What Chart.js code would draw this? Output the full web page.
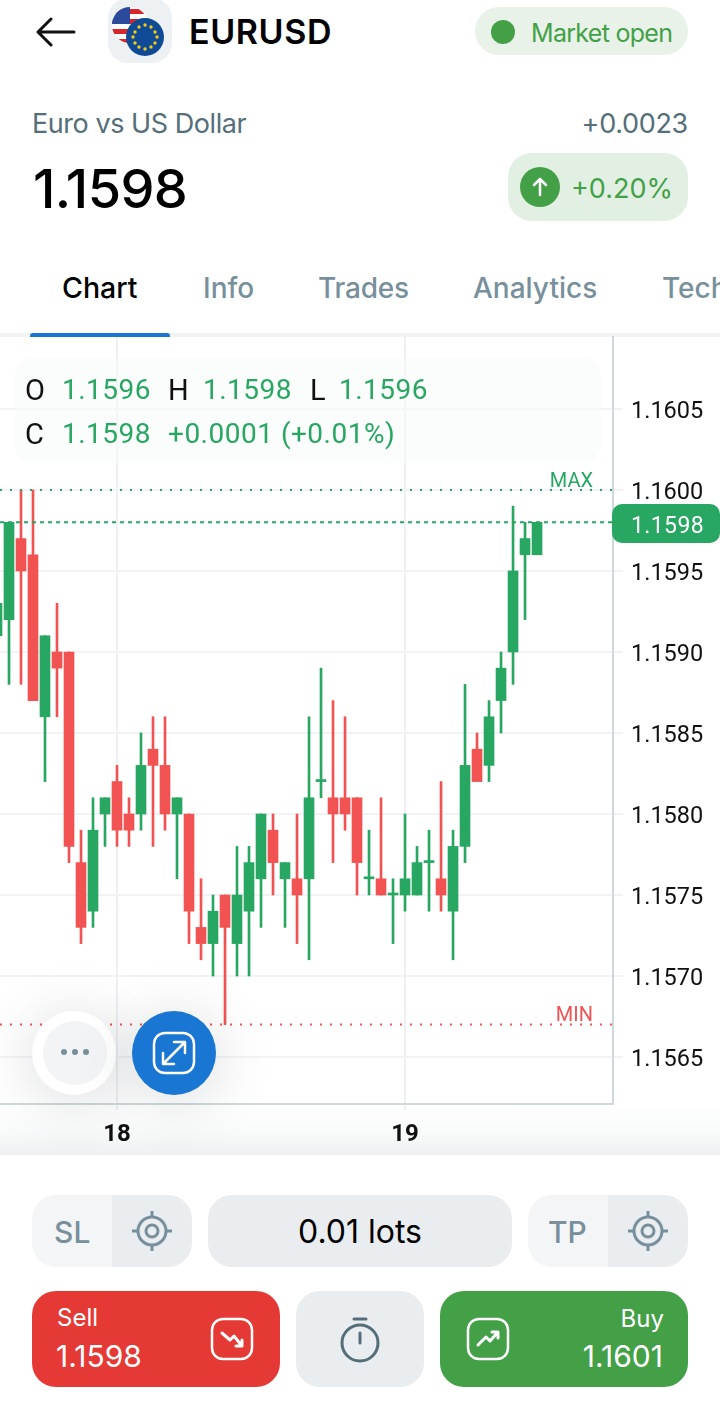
<!DOCTYPE html>
<html>
<head>
<meta charset="utf-8">
<title>EURUSD</title>
<script src="https://cdn.jsdelivr.net/npm/chart.js@4"></script>
<style>
  html, body { margin: 0; padding: 0; background: #fff; }
  #page { position: relative; width: 720px; height: 1425px; overflow: hidden; font-family: Inter, sans-serif; color: #000; }
  #page > div, #page > svg, #page > canvas { position: absolute; }
  .t { white-space: nowrap; transform: translateY(-50%); line-height: 1; }
  .r { text-align: right; }
  .slate { color: #546e7a; }
  .tab { color: #78909c; font-size: 28px; font-weight: 500; top: 288px; }
  .ohlc { font-family: Roboto, sans-serif; font-size: 28px; color: #27a762; letter-spacing: .5px; }
  .ohlc.k { color: #111; font-size: 29px; }
  .pill { background: #e9edf0; border-radius: 24px; }
  #shade { left: 0; top: 1105px; width: 720px; height: 50px; background: linear-gradient(#fff, #fafbfb 50%, #eff0f1); }
</style>
</head>
<body>
<div id="page">
  <!-- header -->
  <svg style="left:36px;top:14px" width="40" height="36" viewBox="0 0 40 36" fill="none" stroke="#111" stroke-width="3" stroke-linecap="round" stroke-linejoin="round"><path d="M2 18H38M15 5L2 18L15 31"/></svg>
  <div style="left:108px;top:-2px;width:64px;height:65px;background:#eef1f4;border-radius:20px"></div>
  <svg style="left:108px;top:0" width="64" height="64" viewBox="0 0 64 64">
    <clipPath id="us"><circle cx="22" cy="25" r="18"/></clipPath>
    <g clip-path="url(#us)">
      <rect x="4" y="7" width="36" height="36" fill="#fff"/>
      <rect x="4" y="9" width="36" height="5" fill="#d8262c"/>
      <rect x="4" y="19" width="36" height="5" fill="#d8262c"/>
      <rect x="4" y="29" width="36" height="5" fill="#d8262c"/>
      <rect x="4" y="39" width="36" height="5" fill="#d8262c"/>
      <rect x="4" y="7" width="18" height="17" fill="#2b4a9b"/>
    </g>
    <g transform="translate(-1,-3)">
      <circle cx="38" cy="40" r="19" fill="#0f4a96"/>
      <g fill="#f6c90e">
        <circle cx="38" cy="28" r="1.7"/><circle cx="44" cy="30" r="1.7"/><circle cx="48" cy="35" r="1.7"/><circle cx="50" cy="40" r="1.7"/>
        <circle cx="48" cy="46" r="1.7"/><circle cx="44" cy="50" r="1.7"/><circle cx="38" cy="52" r="1.7"/><circle cx="32" cy="50" r="1.7"/>
        <circle cx="28" cy="46" r="1.7"/><circle cx="26" cy="40" r="1.7"/><circle cx="28" cy="35" r="1.7"/><circle cx="32" cy="30" r="1.7"/>
      </g>
    </g>
  </svg>
  <div class="t" style="left:189px;top:32px;font-size:34px;font-weight:600;letter-spacing:.6px">EURUSD</div>
  <div style="left:475px;top:7px;width:213px;height:48px;background:#e8f2e9;border-radius:24px"></div>
  <div style="left:491px;top:20px;width:24px;height:24px;background:#43a047;border-radius:50%"></div>
  <div class="t" style="left:531px;top:33px;font-size:25px;color:#43a047;letter-spacing:-.7px">Market open</div>

  <div class="t slate" style="left:32px;top:123px;font-size:27px;letter-spacing:-.45px">Euro vs US Dollar</div>
  <div class="t slate r" style="right:32px;top:123px;font-size:27px;letter-spacing:-.3px">+0.0023</div>
  <div class="t" style="left:33px;top:189px;font-size:54px;font-weight:500;letter-spacing:-.6px">1.1598</div>
  <div style="left:508px;top:153px;width:180px;height:68px;background:#e2f0e3;border-radius:24px"></div>
  <svg style="left:520px;top:167px" width="40" height="40" viewBox="0 0 40 40"><circle cx="20" cy="20" r="20" fill="#43a047"/><path d="M20 28V13M14 18L20 12L26 18" fill="none" stroke="#fff" stroke-width="2.5" stroke-linecap="round" stroke-linejoin="round"/></svg>
  <div class="t" style="left:571px;top:188px;font-size:27px;color:#43a047">+0.20%</div>

  <!-- tabs -->
  <div class="t" style="left:62px;top:288px;font-size:28.5px;font-weight:500">Chart</div>
  <div class="t tab" style="left:203px">Info</div>
  <div class="t tab" style="left:318px;letter-spacing:-.2px">Trades</div>
  <div class="t tab" style="left:473px">Analytics</div>
  <div class="t tab" style="left:662px">Technical</div>
  <div style="left:0;top:333px;width:720px;height:4px;background:#f1f3f5"></div>
  <div style="left:30px;top:333px;width:140px;height:4px;background:#1976d2;border-radius:3px 3px 0 0"></div>

  <!-- chart -->
  <div id="shade"></div>
  <canvas id="candleChart" width="720" height="830" style="left:0;top:320px;width:720px;height:830px"></canvas>

  <div style="left:15px;top:358px;width:586px;height:105px;background:rgba(248,249,250,.55);border-radius:18px"></div>
  <div class="t ohlc k" style="left:25px;top:390px">O</div>
  <div class="t ohlc" style="left:62px;top:390px">1.1596</div>
  <div class="t ohlc k" style="left:168px;top:390px">H</div>
  <div class="t ohlc" style="left:203px;top:390px">1.1598</div>
  <div class="t ohlc k" style="left:310px;top:390px">L</div>
  <div class="t ohlc" style="left:339px;top:390px">1.1596</div>
  <div class="t ohlc k" style="left:25px;top:434px">C</div>
  <div class="t ohlc" style="left:62px;top:434px">1.1598</div>
  <div class="t ohlc" style="left:168px;top:434px">+0.0001 (+0.01%)</div>

  <div class="t r" style="right:127px;top:480px;font-family:Roboto,sans-serif;font-size:20px;color:#27a762">MAX</div>
  <div class="t r" style="right:127px;top:1014px;font-family:Roboto,sans-serif;font-size:20px;color:#f15353">MIN</div>
  <div style="left:612px;top:504px;width:108px;height:39px;background:#27a762;border-radius:10px"></div>
  <div class="t" style="left:631px;top:525px;font-family:Roboto,sans-serif;font-size:23px;color:#fff;letter-spacing:.4px">1.1598</div>

  <!-- floating buttons -->
  <div style="left:32px;top:1011px;width:84px;height:84px;border-radius:50%;background:#fff;box-shadow:0 6px 60px rgba(60,70,80,.2)"></div>
  <div style="left:43px;top:1021px;width:64px;height:64px;border-radius:50%;background:#f3f4f6"></div>
  <svg style="left:60px;top:1046px" width="30" height="12"><circle cx="4" cy="6" r="3" fill="#78909c"/><circle cx="15" cy="6" r="3" fill="#78909c"/><circle cx="26" cy="6" r="3" fill="#78909c"/></svg>
  <div style="left:132px;top:1011px;width:84px;height:84px;border-radius:50%;background:#1976d2;box-shadow:0 6px 60px rgba(60,70,80,.2)"></div>
  <svg style="left:152px;top:1031px" width="44" height="44" viewBox="0 0 44 44" fill="none" stroke="#fff" stroke-width="2.5" stroke-linecap="round" stroke-linejoin="round"><rect x="2" y="2" width="40" height="40" rx="11"/><path d="M11 33L33 11M22 11H33V22M11 22V33H22"/></svg>

  <!-- order panel -->
  <div style="left:0;top:1155px;width:720px;height:270px;background:#fff"></div>
  <div style="left:32px;top:1195px;width:160px;height:72px;border-radius:24px;background:linear-gradient(90deg,#f4f5f7 50%,#e9edf0 50%)"></div>
  <div class="t" style="left:54px;top:1232px;font-size:30px;font-weight:500;color:#78909c">SL</div>
  <svg style="left:131px;top:1210px" width="42" height="42" viewBox="0 0 42 42" fill="none" stroke="#78909c" stroke-width="3"><circle cx="21" cy="21" r="14"/><circle cx="21" cy="21" r="6"/><path d="M21 1V7M21 35V41M1 21H7M35 21H41"/></svg>
  <div class="pill" style="left:208px;top:1195px;width:304px;height:72px"></div>
  <div class="t" style="left:208px;top:1232px;width:304px;text-align:center;font-size:32px">0.01 lots</div>
  <div style="left:528px;top:1195px;width:160px;height:72px;border-radius:24px;background:linear-gradient(90deg,#f4f5f7 50%,#e9edf0 50%)"></div>
  <div class="t" style="left:548px;top:1232px;font-size:30px;font-weight:500;color:#78909c">TP</div>
  <svg style="left:627px;top:1210px" width="42" height="42" viewBox="0 0 42 42" fill="none" stroke="#78909c" stroke-width="3"><circle cx="21" cy="21" r="14"/><circle cx="21" cy="21" r="6"/><path d="M21 1V7M21 35V41M1 21H7M35 21H41"/></svg>

  <div style="left:32px;top:1291px;width:248px;height:96px;border-radius:24px;background:#e53935"></div>
  <div class="t" style="left:57px;top:1318px;font-size:24px;color:#fff">Sell</div>
  <div class="t" style="left:56px;top:1356px;font-size:30px;color:#fff">1.1598</div>
  <svg style="left:210px;top:1317px" width="44" height="44" viewBox="0 0 44 44" fill="none" stroke="#fff" stroke-width="2.5" stroke-linecap="round" stroke-linejoin="round"><rect x="2" y="2" width="40" height="40" rx="11"/><path d="M12 16L20 23L24 19L32 29M32 23V29H26" stroke-width="3"/></svg>
  <div class="pill" style="left:296px;top:1291px;width:128px;height:96px"></div>
  <svg style="left:338px;top:1316px" width="44" height="48" viewBox="0 0 44 48" fill="none" stroke="#546e7a" stroke-width="3" stroke-linecap="round"><circle cx="22" cy="27" r="18"/><path d="M16 3H28M22 17V27"/></svg>
  <div style="left:440px;top:1291px;width:248px;height:96px;border-radius:24px;background:#43a047"></div>
  <div class="t r" style="right:56px;top:1319px;font-size:24px;color:#fff">Buy</div>
  <div class="t r" style="right:57px;top:1356px;font-size:30px;color:#fff">1.1601</div>
  <svg style="left:466px;top:1317px" width="44" height="44" viewBox="0 0 44 44" fill="none" stroke="#fff" stroke-width="2.5" stroke-linecap="round" stroke-linejoin="round"><rect x="2" y="2" width="40" height="40" rx="11"/><path d="M12 28L20 20L24 24L32 15M26 15H32V21" stroke-width="3"/></svg>
</div>

<script>
// candle number, oldest first
const candleIds = [0,1,2,3,4,5,6,7,8,9,10,11,12,13,14,15,16,17,18,19,20,21,22,23,24,25,26,27,28,29,30,31,32,33,34,35,36,37,38,39,40,41,42,43,44,45];
const opens  = [1.1591,1.1592,1.1597,1.1596,1.1586,1.1590,1.1590,1.1577,1.1574,1.1580,1.1582,1.1580,1.1580,1.1584,1.1583,1.1580,1.1580,1.1573,1.1572,1.1575,1.1572,1.1574,1.1576,1.1579,1.1576,1.1576,1.1576,1.1582,1.1581,1.1581,1.1581,1.1576,1.1576,1.1575,1.1575,1.1575,1.1577,1.1576,1.1574,1.1578,1.1584,1.1583,1.1587,1.1590,1.1596,1.1596];
const highs  = [1.1593,1.1598,1.1600,1.1600,1.1591,1.1593,1.1590,1.1579,1.1581,1.1581,1.1583,1.1581,1.1585,1.1586,1.1586,1.1581,1.1580,1.1576,1.1575,1.1575,1.1578,1.1578,1.1580,1.1580,1.1577,1.1580,1.1586,1.1589,1.1587,1.1586,1.1581,1.1579,1.1581,1.1576,1.1580,1.1578,1.1579,1.1582,1.1579,1.1588,1.1585,1.1587,1.1590,1.1599,1.1598,1.1598];
const lows   = [1.1591,1.1588,1.1588,1.1587,1.1582,1.1586,1.1577,1.1572,1.1573,1.1578,1.1578,1.1578,1.1579,1.1578,1.1579,1.1576,1.1572,1.1571,1.1570,1.1567,1.1570,1.1570,1.1573,1.1575,1.1573,1.1572,1.1571,1.1581,1.1577,1.1579,1.1575,1.1575,1.1575,1.1572,1.1574,1.1575,1.1574,1.1574,1.1571,1.1577,1.1582,1.1582,1.1585,1.1588,1.1592,1.1596];
const closes = [1.1593,1.1598,1.1595,1.1587,1.1591,1.1589,1.1578,1.1573,1.1579,1.1581,1.1579,1.1579,1.1583,1.1583,1.1580,1.1581,1.1574,1.1572,1.1574,1.1573,1.1575,1.1577,1.1580,1.1577,1.1577,1.1575,1.1581,1.1582,1.1580,1.1580,1.1577,1.1576,1.1575,1.1575,1.1576,1.1577,1.1577,1.1575,1.1578,1.1583,1.1582,1.1586,1.1589,1.1595,1.1597,1.1598];

const yTicks = [1.1565,1.1570,1.1575,1.1580,1.1585,1.1590,1.1595,1.1600,1.1605];
const xTickIds = [10,34];
const xTickLabels = ['18','19'];
const maxPrice = 1.1600;
const minPrice = 1.1567;
const lastPrice = 1.1598;

const xMin = 0.25;
const xMax = 51.33;
const green = '#27a762';
const red = '#f15353';
const candleColor = (c) => closes[c.dataIndex] >= opens[c.dataIndex] ? green : red;

// horizontal level across the whole plot
function levelLine(price, color, dash) {
  return {
    type: 'line',
    data: [{ x: xMin, y: price }, { x: xMax, y: price }],
    borderColor: color,
    borderWidth: 2,
    borderDash: dash,
    pointRadius: 0,
    order: 0
  };
}

const ctx = document.getElementById('candleChart').getContext('2d');
const candleChart = new Chart(ctx, {
  data: {
    labels: candleIds,
    datasets: [
      {
        type: 'bar',
        data: candleIds.map((id, i) => [lows[i], highs[i]]),
        backgroundColor: candleColor,
        barThickness: 2,
        grouped: false,
        order: 2
      },
      {
        type: 'bar',
        data: candleIds.map((id, i) => [opens[i], closes[i]]),
        backgroundColor: candleColor,
        barThickness: 10,
        minBarLength: 2,
        grouped: false,
        order: 1
      },
      levelLine(maxPrice, green, [2, 8]),
      levelLine(lastPrice, green, [4, 4]),
      levelLine(minPrice, red, [2, 8])
    ]
  },
  options: {
    responsive: false,
    animation: false,
    layout: { padding: { top: 17, left: 0, right: 0, bottom: 0 } },
    plugins: { legend: { display: false }, tooltip: { enabled: false } },
    scales: {
      x: {
        type: 'linear',
        offset: false,
        min: xMin,
        max: xMax,
        afterBuildTicks: (axis) => { axis.ticks = xTickIds.map((v) => ({ value: v })); },
        afterFit: (axis) => { axis.height = 46; axis.paddingLeft = 0; axis.paddingRight = 0; },
        grid: { offset: false, color: '#eff0f4', lineWidth: 2, tickLength: 6 },
        border: { color: '#cfd8dc', width: 2 },
        ticks: {
          autoSkip: false,
          maxRotation: 0,
          padding: 11,
          color: '#111',
          font: { family: 'Roboto', size: 24, weight: 'bold' },
          callback: (v) => xTickLabels[xTickIds.indexOf(v)]
        }
      },
      y: {
        position: 'right',
        min: 1.15621,
        max: 1.160944,
        afterBuildTicks: (axis) => { axis.ticks = yTicks.map((v) => ({ value: v })); },
        afterFit: (axis) => { axis.width = 107; axis.paddingTop = 0; axis.paddingBottom = 0; },
        grid: { color: '#f2f3f7', lineWidth: 2, tickLength: 10 },
        border: { color: '#cfd8dc', width: 2 },
        ticks: {
          padding: 8,
          color: '#111',
          // empty first line + small line height pushes the label 3px below its grid line
          font: { family: 'Roboto', size: 23.5, lineHeight: '6px' },
          callback: (v) => ['', v.toFixed(4)]
        }
      }
    }
  }
});
</script>
</body>
</html>
